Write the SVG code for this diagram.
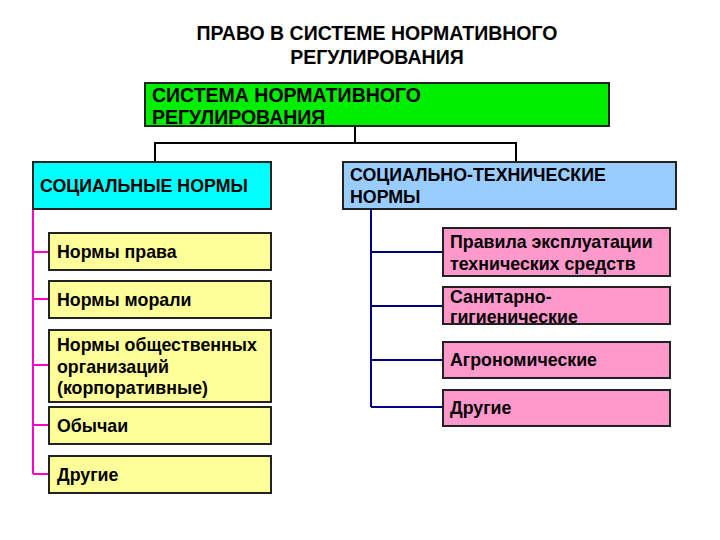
<svg xmlns="http://www.w3.org/2000/svg" width="720" height="540" viewBox="0 0 720 540">
<style>
text{font-family:"Liberation Sans",Arial,sans-serif;font-weight:bold;fill:#000}
.t{font-size:19.5px}
.n{font-size:17.8px}
.box{stroke:#222;stroke-width:2}
.lk{fill:none;stroke:#000;stroke-width:2}
.lm{fill:none;stroke:#ff00cc;stroke-width:2}
.lb{fill:none;stroke:#000080;stroke-width:2}
</style>
<rect width="720" height="540" fill="#fff"/>
<g id="title">
<text x="377" y="40" text-anchor="middle" class="t">ПРАВО В СИСТЕМЕ НОРМАТИВНОГО</text>
<text x="377" y="64" text-anchor="middle" class="t">РЕГУЛИРОВАНИЯ</text>
</g>
<g id="connectors">
<path class="lk" d="M355 126V143M155 162V143H516V162"/>
<path class="lm" d="M33 209V474M33 252H49M33 299H49M33 365H49M33 425H49M33 474H49"/>
<path class="lb" d="M371 209V407M371 252H443M371 306H443M371 360H443M371 407H443"/>
</g>
<g id="root">
<rect class="box" x="145" y="83" width="464" height="43" fill="#00ee00"/>
<text x="152" y="102" class="t">СИСТЕМА НОРМАТИВНОГО</text>
<text x="152" y="124" class="t">РЕГУЛИРОВАНИЯ</text>
</g>
<g id="social">
<rect class="box" x="33" y="162" width="238" height="47" fill="#00ffff"/>
<text x="40" y="192" class="n">СОЦИАЛЬНЫЕ НОРМЫ</text>
</g>
<g id="sociotech">
<rect class="box" x="343" y="162" width="333" height="47" fill="#99ccff"/>
<text x="350" y="181" class="n">СОЦИАЛЬНО-ТЕХНИЧЕСКИЕ</text>
<text x="350" y="203" class="n">НОРМЫ</text>
</g>
<g id="s1">
<rect class="box" x="49" y="233" width="222" height="37" fill="#ffff99"/>
<text x="57" y="258" class="n">Нормы права</text>
</g>
<g id="s2">
<rect class="box" x="49" y="281" width="222" height="37" fill="#ffff99"/>
<text x="57" y="306" class="n">Нормы морали</text>
</g>
<g id="s3">
<rect class="box" x="49" y="330" width="222" height="72" fill="#ffff99"/>
<text x="57" y="351" class="n">Нормы общественных</text>
<text x="57" y="373" class="n">организаций</text>
<text x="57" y="394" class="n">(корпоративные)</text>
</g>
<g id="s4">
<rect class="box" x="49" y="407" width="222" height="37" fill="#ffff99"/>
<text x="57" y="432" class="n">Обычаи</text>
</g>
<g id="s5">
<rect class="box" x="49" y="456" width="222" height="37" fill="#ffff99"/>
<text x="57" y="481" class="n">Другие</text>
</g>
<g id="t1">
<rect class="box" x="443" y="228" width="227" height="48" fill="#ff99cc"/>
<text x="450" y="248" class="n">Правила эксплуатации</text>
<text x="450" y="270" class="n">технических средств</text>
</g>
<g id="t2">
<rect class="box" x="443" y="287" width="227" height="37" fill="#ff99cc"/>
<text x="450" y="303" class="n">Санитарно-</text>
<text x="450" y="323" class="n">гигиенические</text>
</g>
<g id="t3">
<rect class="box" x="443" y="342" width="227" height="36" fill="#ff99cc"/>
<text x="450" y="366" class="n">Агрономические</text>
</g>
<g id="t4">
<rect class="box" x="443" y="390" width="227" height="36" fill="#ff99cc"/>
<text x="450" y="414" class="n">Другие</text>
</g>
</svg>
